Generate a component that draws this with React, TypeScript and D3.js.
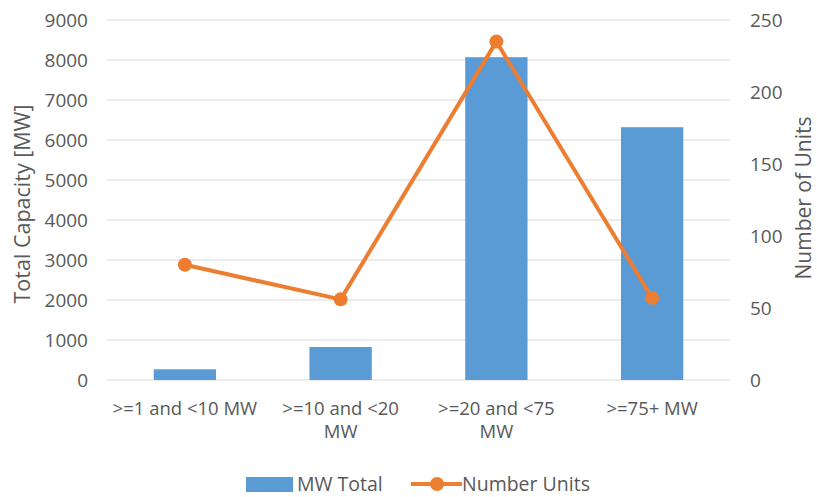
import React from "react";
import * as d3 from "d3";

const categories = [">=1 and <10 MW", ">=10 and <20 MW", ">=20 and <75 MW", ">=75+ MW"];
const mwTotal = [268, 825, 8070, 6320];
const numberUnits = [80, 56, 235, 57];
const leftTicks = [0, 1000, 2000, 3000, 4000, 5000, 6000, 7000, 8000, 9000];
const rightTicks = [0, 50, 100, 150, 200, 250];

const W = 817, H = 497;
const M = { left: 107, right: 730, top: 20, bottom: 380 };
const FONT = "'Open Sans', 'Noto Sans', sans-serif";
const TXT = "#595959";
const BLUE = "#5B9BD5";
const ORANGE = "#ED7D31";

function wrap(label: string): string[] {
  if (label.length <= 14) return [label];
  const i = label.lastIndexOf(" ");
  return [label.slice(0, i), label.slice(i + 1)];
}

export default function App() {
  const x = d3.scaleBand<string>().domain(categories).range([M.left, M.right]).paddingInner(0.6).paddingOuter(0.3);
  const yL = d3.scaleLinear().domain([0, 9000]).range([M.bottom, M.top]);
  const yR = d3.scaleLinear().domain([0, 250]).range([M.bottom, M.top]);
  const cx = (c: string) => (x(c) ?? 0) + x.bandwidth() / 2;
  const line = d3.line<number>().x((_, i) => cx(categories[i])).y((d) => yR(d));

  return (
    <div style={{ position: "fixed", left: 0, top: 0 }}>
      <svg width={W} height={H} style={{ display: "block", background: "#fff" }} fontFamily={FONT}>
        {leftTicks.map((t) => (
          <g key={t}>
            <line x1={M.left} x2={M.right} y1={yL(t)} y2={yL(t)} stroke="#D9D9D9" strokeWidth={1} />
            <text x={88} y={yL(t)} dy="0.36em" textAnchor="end" fontSize={19} fill={TXT}>{t}</text>
          </g>
        ))}
        {rightTicks.map((t) => (
          <text key={t} x={750} y={yR(t)} dy="0.36em" textAnchor="start" fontSize={19} fill={TXT}>{t}</text>
        ))}
        {categories.map((c, i) => (
          <rect key={c} x={x(c)} y={yL(mwTotal[i])} width={x.bandwidth()} height={yL(0) - yL(mwTotal[i])} fill={BLUE} />
        ))}
        <path d={line(numberUnits) ?? ""} fill="none" stroke={ORANGE} strokeWidth={4} strokeLinejoin="round" />
        {numberUnits.map((v, i) => (
          <circle key={i} cx={cx(categories[i])} cy={yR(v)} r={7} fill={ORANGE} />
        ))}
        {categories.map((c) => (
          <text key={c} x={cx(c)} y={415} textAnchor="middle" fontSize={18.5} fill={TXT}>
            {wrap(c).map((l, j) => (
              <tspan key={j} x={cx(c)} dy={j === 0 ? 0 : 23}>{l}</tspan>
            ))}
          </text>
        ))}
        <text transform={`translate(30,204) rotate(-90)`} textAnchor="middle" fontSize={21.5} fill={TXT}>Total Capacity [MW]</text>
        <text transform={`translate(811,198) rotate(-90)`} textAnchor="middle" fontSize={21} fill={TXT}>Number of Units</text>
        <g>
          <rect x={246} y={477} width={47} height={15} fill={BLUE} />
          <text x={297} y={491} fontSize={19.5} fill={TXT}>MW Total</text>
          <line x1={411} x2={462} y1={484} y2={484} stroke={ORANGE} strokeWidth={4} />
          <circle cx={437} cy={484} r={7} fill={ORANGE} />
          <text x={462} y={491} fontSize={19.5} fill={TXT}>Number Units</text>
        </g>
      </svg>
    </div>
  );
}
